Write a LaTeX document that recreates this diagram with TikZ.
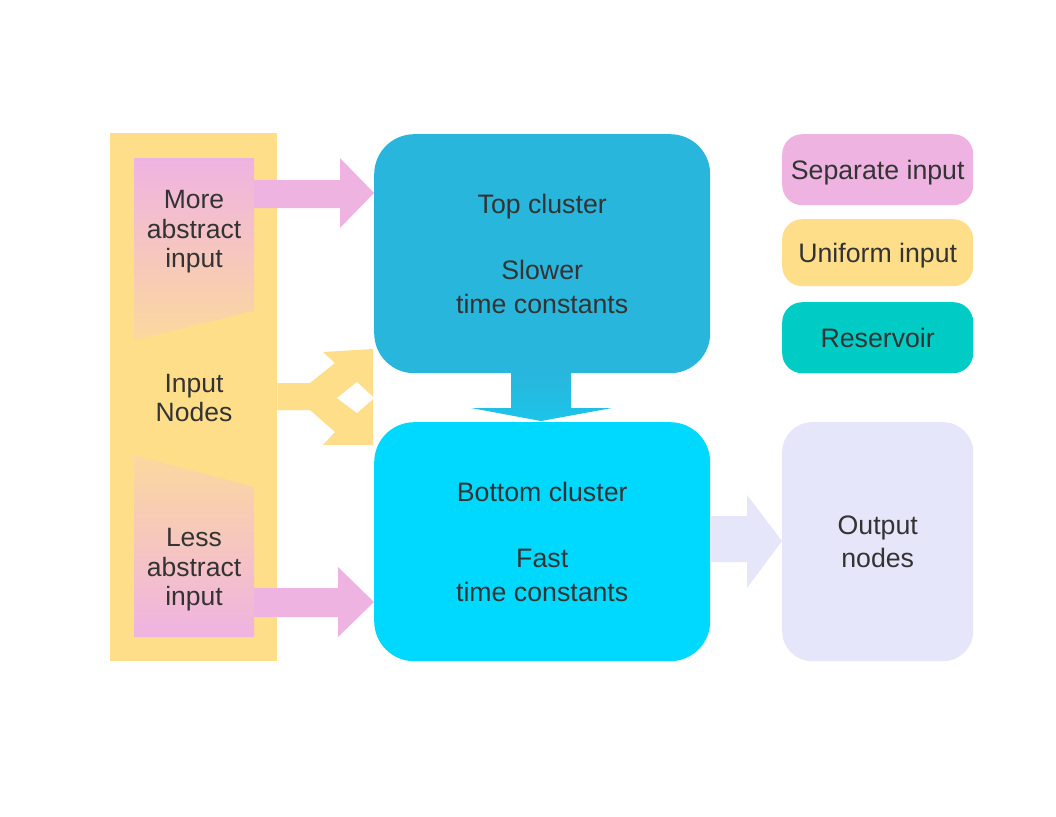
\documentclass[tikz,border=0pt]{standalone}
\usepackage{fontspec}
\setmainfont{Liberation Sans}
\definecolor{inyellow}{HTML}{FFDE8A}
\definecolor{pinkc}{HTML}{EFB3E2}
\definecolor{peachc}{HTML}{FCD89E}
\definecolor{topc}{HTML}{29B6DC}
\definecolor{botc}{HTML}{00D9FF}
\definecolor{midc}{HTML}{1CC4EA}
\definecolor{tealc}{HTML}{00CCC6}
\definecolor{lavc}{HTML}{E6E6FA}
\definecolor{textc}{HTML}{333333}
\begin{document}
\begin{tikzpicture}[x=1pt,y=-1pt,
  txt/.style={text=textc, font=\fontsize{26.7}{33.3}\selectfont, align=center, inner sep=0pt},
  intxt/.style={text=textc, font=\fontsize{26.5}{29.5}\selectfont, align=center, inner sep=0pt},
  cluster/.style={txt, rounded corners=40pt, minimum width=336pt, minimum height=239pt, anchor=north west},
  legendbox/.style={txt, rounded corners=20pt, minimum width=191pt, anchor=north west, text depth=0pt}]
\useasboundingbox (0,0) rectangle (1056,816);
\fill[white] (0,0) rectangle (1056,816);

% input column
\node[fill=inyellow, minimum width=167pt, minimum height=528pt, inner sep=0pt, anchor=north west] (inputs) at (110,133) {};
\shade[top color=pinkc, bottom color=peachc] (134,158) -- (254,158) -- (254,311) -- (134,340) -- cycle;
\shade[top color=peachc, bottom color=pinkc] (134,455) -- (254,487) -- (254,637) -- (134,637) -- cycle;
\node[intxt] (more) at (194,232) {More\\abstract\\input};
\node[intxt] (innodes) at (194,398) {Input\\Nodes};
\node[intxt] (less) at (194,570) {Less\\abstract\\input};

% clusters
\node[cluster, fill=topc] (top) at (374,134) {Top cluster\\[\baselineskip]Slower\\time constants};
\node[cluster, fill=botc] (bottom) at (374,422) {Bottom cluster\\[\baselineskip]Fast\\time constants};

% legend and output
\node[legendbox, fill=pinkc, minimum height=71pt] (sep) at (782,134) {Separate input};
\node[legendbox, fill=inyellow, minimum height=67pt] (uni) at (782,219) {Uniform input};
\node[legendbox, fill=tealc, minimum height=71pt] (res) at (782,302) {Reservoir};
\node[txt, fill=lavc, rounded corners=30pt, minimum width=191pt, minimum height=239pt, anchor=north west] (out) at (782,422) {Output\\nodes};

% block arrows
\fill[pinkc] (254,180) -- (340,180) -- (340,158) -- (top.west |- 0,193) -- (340,228) -- (340,208) -- (254,208) -- cycle;
\fill[pinkc] (254,588) -- (338,588) -- (338,567) -- (bottom.west |- 0,602) -- (338,637) -- (338,617) -- (254,617) -- cycle;
\shade[top color=topc, bottom color=midc] (511,373) -- (571,373) -- (571,408) -- (612,408) -- (541,421) -- (471,408) -- (511,408) -- cycle;
\fill[lavc] (bottom.east |- 0,516) -- (747,516) -- (747,495) -- (out.west |- 0,541) -- (747,588) -- (747,562) -- (bottom.east |- 0,562) -- cycle;
% forked arrow
\fill[inyellow] (inputs.east |- 0,383) -- (310,383) -- (335,363) -- (323,352) -- (373,349) -- (373,445) -- (323,445) -- (335,432) -- (310,410) -- (inputs.east |- 0,410) -- cycle;
\fill[white] (337,398) -- (357,382) -- (373,397) -- (373,399) -- (357,413) -- cycle;
\end{tikzpicture}
\end{document}
